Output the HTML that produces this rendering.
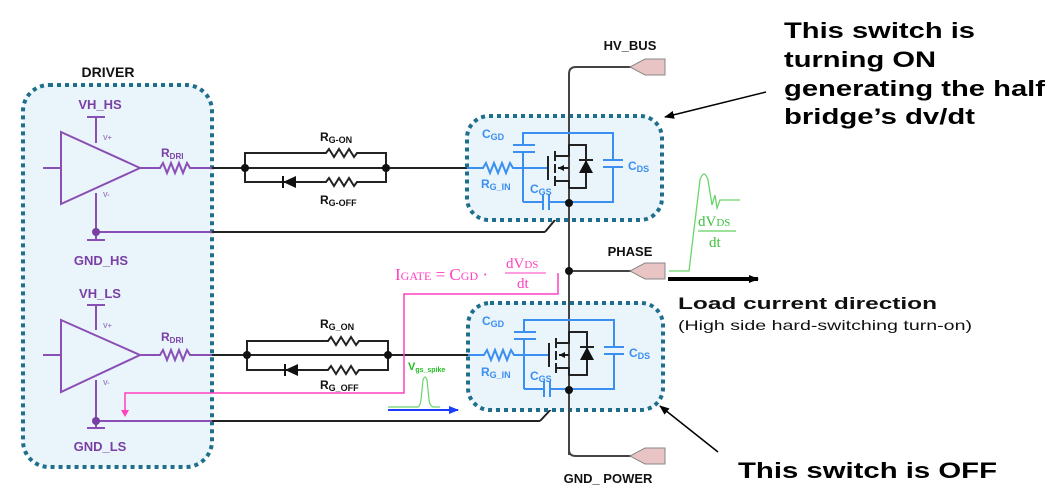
<!DOCTYPE html>
<html><head><style>
html,body{margin:0;padding:0;background:#fff;}
svg{display:block;}
text{font-family:"Liberation Sans",sans-serif;font-weight:bold;}
</style></head><body>
<svg width="1054" height="497" viewBox="0 0 1054 497" xmlns="http://www.w3.org/2000/svg">
<defs>
<marker id="ah" markerWidth="10" markerHeight="8" refX="9" refY="4" orient="auto" markerUnits="userSpaceOnUse"><path d="M0,0 L10,4 L0,8 z" fill="#000"/></marker>
<marker id="ahb" markerWidth="10" markerHeight="8" refX="9" refY="4" orient="auto" markerUnits="userSpaceOnUse"><path d="M0,0 L10,4 L0,8 z" fill="#1a3cff"/></marker>
</defs>
<rect x="23" y="85" width="189" height="382" rx="26" fill="#eaf5fb" stroke="#1f6e8c" stroke-width="4" stroke-dasharray="4,4"/>
<text x="108" y="77" font-size="14" text-anchor="middle" fill="#111">DRIVER</text>

<g stroke="#8a4fb5" stroke-width="2" fill="none">
<line x1="87" y1="117" x2="105" y2="117"/><line x1="96" y1="117" x2="96" y2="143"/>
<polygon points="61,132 140,168 61,204"/>
<line x1="43" y1="168" x2="61" y2="168"/>
<line x1="96" y1="193" x2="96" y2="232"/>
<line x1="87" y1="240" x2="105" y2="240"/><line x1="96" y1="232" x2="96" y2="240"/>
<polyline points="140,168 160,168 163,163 167,173 171,163 175,173 179,163 183,173 187,163 190,168 212,168"/>
<line x1="96" y1="232" x2="212" y2="232"/>
</g>
<circle cx="96" cy="232" r="4" fill="#7a3fa5"/>
<text x="100" y="109" font-size="13" text-anchor="middle" fill="#7a3fa5">VH_HS</text>
<text x="101" y="265" font-size="13" text-anchor="middle" fill="#7a3fa5">GND_HS</text>
<text x="103" y="140" font-size="7" fill="#9a7fc0" font-weight="normal">V+</text>
<text x="103" y="197" font-size="7" fill="#9a7fc0" font-weight="normal">V-</text>
<text x="161" y="157" font-size="12" fill="#7a3fa5">R<tspan font-size="8" dy="2">DRI</tspan></text>

<g stroke="#8a4fb5" stroke-width="2" fill="none">
<line x1="87" y1="305" x2="105" y2="305"/><line x1="96" y1="305" x2="96" y2="330"/>
<polygon points="61,320 140,355 61,392"/>
<line x1="43" y1="355" x2="61" y2="355"/>
<line x1="96" y1="380" x2="96" y2="428"/>
<line x1="87" y1="428" x2="105" y2="428"/>
<polyline points="140,355 160,355 163,350 167,360 171,350 175,360 179,350 183,360 187,350 190,355 212,355"/>
<line x1="96" y1="421" x2="212" y2="421"/>
</g>
<circle cx="96" cy="421" r="4" fill="#7a3fa5"/>
<text x="100" y="298" font-size="13" text-anchor="middle" fill="#7a3fa5">VH_LS</text>
<text x="100" y="451" font-size="13" text-anchor="middle" fill="#7a3fa5">GND_LS</text>
<text x="103" y="328" font-size="7" fill="#9a7fc0" font-weight="normal">V+</text>
<text x="103" y="385" font-size="7" fill="#9a7fc0" font-weight="normal">V-</text>
<text x="161" y="341" font-size="12" fill="#7a3fa5">R<tspan font-size="8" dy="2">DRI</tspan></text>

<g stroke="#222" stroke-width="2" fill="none">
<line x1="212" y1="168" x2="467" y2="168"/>
<polyline points="245,168 245,153 326,153 329,149 334,157 339,149 344,157 349,149 354,157 357,153 386,153 386,168"/>
<polyline points="245,168 245,182 326,182 329,178 334,186 339,178 344,186 349,178 354,186 357,182 386,182 386,168"/>
<line x1="212" y1="355" x2="468" y2="355"/>
<polyline points="247,355 247,341 328,341 331,337 336,345 341,337 346,345 351,337 356,345 359,341 388,341 388,355"/>
<polyline points="247,355 247,370 328,370 331,366 336,374 341,366 346,374 351,366 356,374 359,370 388,370 388,355"/>
<line x1="212" y1="232" x2="545" y2="232"/><line x1="545" y1="232" x2="569" y2="203"/>
<line x1="212" y1="421" x2="540" y2="421"/><line x1="540" y1="421" x2="569" y2="390"/>
</g>
<polygon points="283,182 296,176 296,188" fill="#111"/><line x1="283" y1="176" x2="283" y2="188" stroke="#111" stroke-width="2"/>
<polygon points="285,370 298,364 298,376" fill="#111"/><line x1="285" y1="364" x2="285" y2="376" stroke="#111" stroke-width="2"/>
<g fill="#111"><circle cx="245" cy="168" r="4"/><circle cx="386" cy="168" r="4"/><circle cx="247" cy="355" r="4"/><circle cx="388" cy="355" r="4"/></g>
<text x="320" y="141" font-size="12" fill="#111">R<tspan font-size="9" dy="2">G-ON</tspan></text>
<text x="320" y="204" font-size="12" fill="#111">R<tspan font-size="9" dy="2">G-OFF</tspan></text>
<text x="320" y="328" font-size="12" fill="#111">R<tspan font-size="9" dy="2">G_ON</tspan></text>
<text x="320" y="389" font-size="12" fill="#111">R<tspan font-size="9" dy="2">G_OFF</tspan></text>

<rect x="467" y="116" width="195" height="104" rx="22" fill="#eaf5fb" stroke="#1f6e8c" stroke-width="4" stroke-dasharray="4,4"/>
<rect x="468" y="303" width="195" height="107" rx="22" fill="#eaf5fb" stroke="#1f6e8c" stroke-width="4" stroke-dasharray="4,4"/>

<g stroke="#444" stroke-width="2" fill="none">
<path d="M569,455 L569,74 Q569,67 576,67 L632,67"/>
<path d="M569,440 L569,450 Q569,456 576,456 L632,456"/>
<line x1="569" y1="271" x2="632" y2="271"/>
</g>
<g fill="#e8c4c4" stroke="#888" stroke-width="1">
<polygon points="630,67 645,59 665,59 665,75 645,75"/>
<polygon points="630,271 645,263 665,263 665,279 645,279"/>
<polygon points="630,456 645,448 665,448 665,464 645,464"/>
</g>
<circle cx="569" cy="271" r="4" fill="#111"/>
<text x="630" y="50" font-size="13" text-anchor="middle" fill="#111">HV_BUS</text>
<text x="630" y="256" font-size="13" text-anchor="middle" fill="#111">PHASE</text>
<text x="608" y="483" font-size="13" text-anchor="middle" fill="#111">GND_ POWER</text>

<g>
<g stroke="#3b8ff0" stroke-width="2" fill="none">
<polyline points="523,145 523,133 613,133 613,160"/><polyline points="613,167 613,202 549,202"/>
<line x1="513" y1="145" x2="535" y2="145"/><line x1="513" y1="152" x2="535" y2="152"/>
<line x1="523" y1="152" x2="523" y2="202"/><line x1="523" y1="202" x2="543" y2="202"/>
<line x1="543" y1="194" x2="543" y2="210"/><line x1="549" y1="194" x2="549" y2="210"/>
<line x1="603" y1="160" x2="623" y2="160"/><line x1="603" y1="167" x2="623" y2="167"/>
<polyline points="467,168 483,168 486,163 490,173 494,163 498,173 502,163 506,173 510,163 513,168 548,168"/>
</g>
<g stroke="#222" stroke-width="2" fill="none">
<line x1="548" y1="156" x2="548" y2="180"/>
<line x1="555" y1="151" x2="555" y2="161"/><line x1="555" y1="164" x2="555" y2="173"/><line x1="555" y1="176" x2="555" y2="186"/>
<polyline points="555,156 569,156 569,145 586,145 586,188 569,188 569,181 555,181"/>
<line x1="558" y1="168" x2="569" y2="168"/>
<line x1="579" y1="160" x2="593" y2="160"/>
</g>
<polygon points="586,160 579,173 593,173" fill="#111"/>
<polygon points="558,168 564,165 564,171" fill="#111"/>
</g>
<g transform="translate(1,187)">
<g stroke="#3b8ff0" stroke-width="2" fill="none">
<polyline points="523,145 523,133 613,133 613,160"/><polyline points="613,167 613,202 549,202"/>
<line x1="513" y1="145" x2="535" y2="145"/><line x1="513" y1="152" x2="535" y2="152"/>
<line x1="523" y1="152" x2="523" y2="202"/><line x1="523" y1="202" x2="543" y2="202"/>
<line x1="543" y1="194" x2="543" y2="210"/><line x1="549" y1="194" x2="549" y2="210"/>
<line x1="603" y1="160" x2="623" y2="160"/><line x1="603" y1="167" x2="623" y2="167"/>
<polyline points="467,168 483,168 486,163 490,173 494,163 498,173 502,163 506,173 510,163 513,168 548,168"/>
</g>
<g stroke="#222" stroke-width="2" fill="none">
<line x1="548" y1="156" x2="548" y2="180"/>
<line x1="555" y1="151" x2="555" y2="161"/><line x1="555" y1="164" x2="555" y2="173"/><line x1="555" y1="176" x2="555" y2="186"/>
<polyline points="555,156 568,156 568,145 586,145 586,188 568,188 568,181 555,181"/>
<line x1="558" y1="168" x2="568" y2="168"/>
<line x1="579" y1="160" x2="593" y2="160"/>
</g>
<polygon points="586,160 579,173 593,173" fill="#111"/>
<polygon points="558,168 564,165 564,171" fill="#111"/>
</g>
<circle cx="569" cy="203" r="4" fill="#111"/><circle cx="569" cy="390" r="4" fill="#111"/>
<g fill="#3b8ff0" font-size="12">
<text x="482" y="138">C<tspan font-size="9" dy="2">GD</tspan></text>
<text x="481" y="188">R<tspan font-size="9" dy="2">G_IN</tspan></text>
<text x="530" y="193">C<tspan font-size="9" dy="2">GS</tspan></text>
<text x="628" y="170">C<tspan font-size="9" dy="2">DS</tspan></text>
<text x="482" y="325">C<tspan font-size="9" dy="2">GD</tspan></text>
<text x="481" y="376">R<tspan font-size="9" dy="2">G_IN</tspan></text>
<text x="530" y="380">C<tspan font-size="9" dy="2">GS</tspan></text>
<text x="629" y="357">C<tspan font-size="9" dy="2">DS</tspan></text>
</g>

<polyline points="558,273 558,294 404,294 404,393 125,393 125,412" stroke="#ff40c0" stroke-width="1.5" fill="none"/>
<polygon points="121,410 129,410 125,417" fill="#ff40c0"/>
<g fill="#ff3fbf">
<text x="395" y="280" font-size="17" style="font-family:'Liberation Serif',serif;font-weight:normal">I<tspan font-size="12">GATE</tspan> = C<tspan font-size="12">GD</tspan> ·</text>
<text x="506" y="268" font-size="15" style="font-family:'Liberation Serif',serif;font-weight:normal">dV<tspan font-size="11">DS</tspan></text>
<line x1="505" y1="273" x2="546" y2="273" stroke="#ff3fbf" stroke-width="1"/>
<text x="517" y="288" font-size="15" style="font-family:'Liberation Serif',serif;font-weight:normal">dt</text>
</g>

<text x="408" y="370" font-size="11" fill="#22c022">V<tspan font-size="7" dy="2">gs_spike</tspan></text>
<path d="M388,407 L418,407 Q420,406 421,400 L423,380 Q425,374 427,380 L429,400 Q430,406 433,407 L440,407" stroke="#6ad56a" stroke-width="1.2" fill="none"/>
<line x1="388" y1="410" x2="458" y2="410" stroke="#1a3cff" stroke-width="2" marker-end="url(#ahb)"/>

<path d="M669,271 L689,271 L700,180 Q704,168 708,180 L712,205 L715,195 L717,208 L720,200 L740,200" stroke="#6ad56a" stroke-width="1.3" fill="none"/>
<g fill="#3ec03e">
<text x="698" y="226" font-size="15" style="font-family:'Liberation Serif',serif;font-weight:normal">dV<tspan font-size="11">DS</tspan></text>
<line x1="698" y1="231" x2="736" y2="231" stroke="#3ec03e" stroke-width="1"/>
<text x="709" y="247" font-size="15" style="font-family:'Liberation Serif',serif;font-weight:normal">dt</text>
</g>
<line x1="668" y1="279" x2="758" y2="279" stroke="#000" stroke-width="4" marker-end="url(#ah)"/>
<text x="678" y="309" font-size="17" fill="#111" textLength="259" lengthAdjust="spacingAndGlyphs">Load current direction</text>
<text x="678" y="330" font-size="14" fill="#111" style="font-weight:normal" textLength="294" lengthAdjust="spacingAndGlyphs">(High side hard-switching turn-on)</text>

<g font-size="22" fill="#000">
<text x="784" y="38" textLength="191" lengthAdjust="spacingAndGlyphs">This switch is</text>
<text x="784" y="67" textLength="152" lengthAdjust="spacingAndGlyphs">turning ON</text>
<text x="784" y="96" textLength="261" lengthAdjust="spacingAndGlyphs">generating the half</text>
<text x="784" y="124" textLength="191" lengthAdjust="spacingAndGlyphs">bridge’s dv/dt</text>
<text x="738" y="478" textLength="259" lengthAdjust="spacingAndGlyphs">This switch is OFF</text>
</g>
<line x1="766" y1="92" x2="665" y2="117" stroke="#000" stroke-width="1.5" marker-end="url(#ah)"/>
<line x1="718" y1="452" x2="660" y2="406" stroke="#000" stroke-width="1.5" marker-end="url(#ah)"/>
</svg>
</body></html>
